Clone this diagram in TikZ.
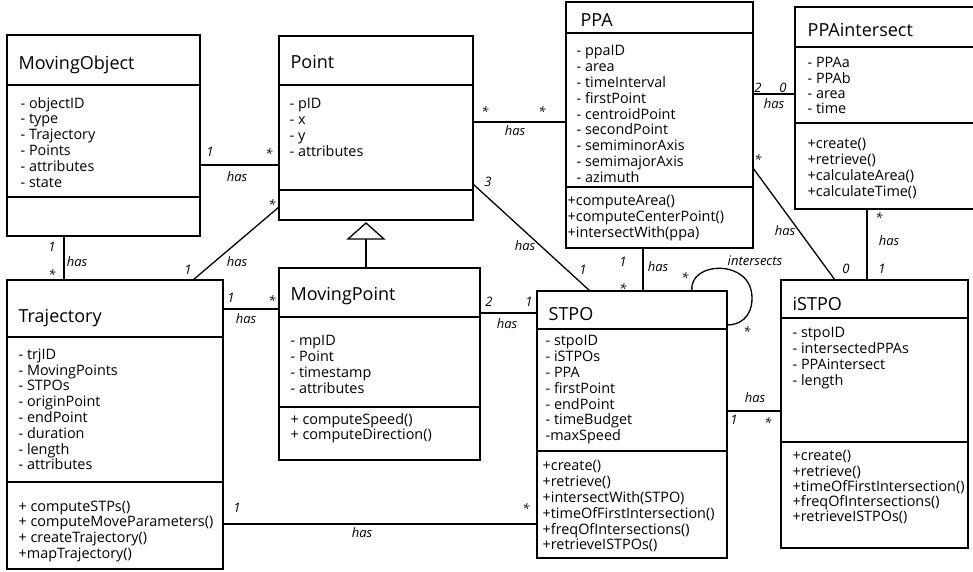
\documentclass[tikz,border=0pt]{standalone}
\usepackage{fontspec}
\setmainfont{Open Sans}
% class box: name, left, top, right, bottom, first divider, second divider
\newcommand\umlclass[7]{%
  \node[classframe, minimum width={(#4-#2)*1pt}, minimum height={(#5-#3)*1pt}] (#1) at (#2,#3) {};
  \draw (#1.north west) ++(0,{#6-#3}) -- ++({#4-#2},0);
  \draw (#1.north west) ++(0,{#7-#3}) -- ++({#4-#2},0);
}
\begin{document}
\begin{tikzpicture}[x=1pt,y=-1pt,line width=1.3pt,
  classframe/.style={draw, anchor=north west, inner sep=0, outer sep=0},
  ctitle/.style={anchor=base west, inner sep=0, font=\fontsize{18}{22}\selectfont},
  members/.style={anchor=north west, yshift=10pt, align=left, inner sep=0,
    execute at begin node={\rule{0pt}{10pt}}, font=\fontsize{14.4}{15.8}\selectfont},
  tight/.style={font=\fontsize{14.4}{15.2}\selectfont},
  lbl/.style={inner sep=0, font=\fontsize{13}{14}\selectfont\itshape},
  mult/.style={lbl, yshift=-2.6pt}]
\useasboundingbox (0,0) rectangle (973,572);

% ---- classes ----
\umlclass{mo}{7}{35}{200}{236}{85}{197}
\umlclass{pt}{279}{36}{473}{220}{85}{190}
\umlclass{ppa}{566}{2}{753}{248}{33}{187}
\umlclass{ppai}{795}{7}{990}{209}{47}{123}
\umlclass{tr}{7}{280}{223}{569}{337}{482}
\umlclass{mp}{279}{268}{480}{460}{317}{407}
\umlclass{stpo}{537}{291}{727}{558}{329}{451}
\umlclass{istpo}{781}{280}{968}{548}{318}{442}

% ---- titles ----
\node[ctitle] (mo-t) at (18,70) {MovingObject};
\node[ctitle] (pt-t) at (290,69) {Point};
\node[ctitle] (ppa-t) at (580,27) {PPA};
\node[ctitle] (ppai-t) at (807,37) {PPAintersect};
\node[ctitle] (tr-t) at (18,322) {Trajectory};
\node[ctitle] (mp-t) at (290,300) {MovingPoint};
\node[ctitle] (stpo-t) at (548,320) {STPO};
\node[ctitle] (istpo-t) at (792,310) {iSTPO};

% ---- attributes and operations ----
\node[members] (mo-a) at (20,106.5) {- objectID\\- type\\- Trajectory\\- Points\\- attributes\\- state};
\node[members] (pt-a) at (289,108) {- pID\\- x\\- y\\- attributes};
\node[members] (ppa-a) at (576,55) {- ppaID\\- area\\- timeInterval\\- firstPoint\\- centroidPoint\\- secondPoint\\- semiminorAxis\\- semimajorAxis\\- azimuth};
\node[members] (ppa-m) at (567,205) {+computeArea()\\+computeCenterPoint()\\+intersectWith(ppa)};
\node[members,tight] (ppai-a) at (807,67) {- PPAa\\- PPAb\\- area\\- time};
\node[members] (ppai-m) at (807,148) {+create()\\+retrieve()\\+calculateArea()\\+calculateTime()};
\node[members] (tr-a) at (18,358) {- trjID\\- MovingPoints\\- STPOs\\- originPoint\\- endPoint\\- duration\\- length\\- attributes};
\node[members] (tr-m) at (18,510) {+ computeSTPs()\\+ computeMoveParameters()\\+ createTrajectory()\\+mapTrajectory()};
\node[members] (mp-a) at (290,345) {- mpID\\- Point\\- timestamp\\- attributes};
\node[members,tight] (mp-m) at (290,423) {+ computeSpeed()\\+ computeDirection()};
\node[members] (stpo-a) at (545,345) {- stpoID\\- iSTPOs\\- PPA\\- firstPoint\\- endPoint\\- timeBudget\\-maxSpeed};
\node[members] (stpo-m) at (542,470) {+create()\\+retrieve()\\+intersectWith(STPO)\\+timeOfFirstIntersection()\\+freqOfIntersections()\\+retrieveISTPOs()};
\node[members] (istpo-a) at (792,337) {- stpoID\\- intersectedPPAs\\- PPAintersect\\- length};
\node[members,tight] (istpo-m) at (792,460) {+create()\\+retrieve()\\+timeOfFirstIntersection()\\+freqOfIntersections()\\+retrieveISTPOs()};

% ---- generalisation MovingPoint -> Point ----
\coordinate (gen-base) at ([xshift=87pt]mp.north west |- 0,239);
\draw ([xshift=87pt]mp.north west) -- (gen-base);
\draw (gen-base) -- ++(-18,0) -- ([xshift=87pt,yshift=-3pt]pt.south west) -- ([xshift=18pt]gen-base) -- cycle;

% ---- associations ----
\draw ([yshift=-130pt]mo.north east) -- ([yshift=-129pt]pt.north west);
\draw ([yshift=-171pt]pt.north west) -- ([xshift=186pt]tr.north west);
\draw ([xshift=57pt]mo.south west) -- ([xshift=57pt]tr.north west);
\draw ([yshift=-29pt]tr.north east) -- ([yshift=-41pt]mp.north west);
\draw ([yshift=-45pt]mp.north east) -- ([yshift=-22pt]stpo.north west);
\draw ([yshift=-86pt]pt.north east) -- ([yshift=-120pt]ppa.north west);
\draw ([yshift=-148pt]pt.north east) -- ([xshift=53pt]stpo.north west);
\draw ([xshift=77pt]ppa.south west) -- ([xshift=106pt]stpo.north west);
\draw ([xshift=155pt]stpo.north west) .. controls +(-4,-30) and +(0,-40) .. ([yshift=-7pt,xshift=25pt]stpo.north east)
      .. controls +(0,20) and +(12,0) .. ([yshift=-34pt]stpo.north east);
\draw ([yshift=-92pt]ppa.north east) -- ([yshift=-87pt]ppai.north west);
\draw ([yshift=-166pt]ppa.north east) -- ([xshift=54pt]istpo.north west);
\draw ([xshift=72pt]ppai.south west) -- ([xshift=86pt]istpo.north west);
\draw ([yshift=-120pt]stpo.north east) -- ([yshift=-131pt]istpo.north west);
\draw ([yshift=-244pt]tr.north east) -- ([yshift=-233pt]stpo.north west);

% ---- multiplicities and role names ----
\node[lbl] (l1a) at (210,152) {1};
\node[mult] (l1b) at (269,151) {*};
\node[lbl] (l1c) at (237,177) {has};
\node[mult] (l2a) at (272,202) {*};
\node[lbl] (l2b) at (188,270) {1};
\node[lbl] (l2c) at (237,262) {has};
\node[lbl] (l3a) at (52,247) {1};
\node[mult] (l3b) at (52,272) {*};
\node[lbl] (l3c) at (77,262) {has};
\node[lbl] (l4a) at (231,298) {1};
\node[mult] (l4b) at (272,298) {*};
\node[lbl] (l4c) at (246,319) {has};
\node[lbl] (l5a) at (489,302) {2};
\node[lbl] (l5b) at (529,302) {1};
\node[lbl] (l5c) at (507,324) {has};
\node[mult] (l6a) at (485,109) {*};
\node[mult] (l6b) at (542,109) {*};
\node[lbl] (l6c) at (515,131) {has};
\node[lbl] (l7a) at (488,182) {3};
\node[lbl] (l7b) at (583,270) {1};
\node[lbl] (l7c) at (525,246) {has};
\node[lbl] (l8a) at (623,262) {1};
\node[mult] (l8b) at (623,286) {*};
\node[lbl] (l8c) at (658,267) {has};
\node[mult] (l9a) at (685,275) {*};
\node[mult] (l9b) at (747,329) {*};
\node[lbl] (l9c) at (755,261) {intersects};
\node[lbl] (l10a) at (758,88) {2};
\node[lbl] (l10b) at (783,88) {0};
\node[lbl] (l10c) at (774,104) {has};
\node[mult] (l11a) at (758,157) {*};
\node[lbl] (l11b) at (785,231) {has};
\node[lbl] (l11c) at (846,269) {0};
\node[mult] (l12a) at (879,215) {*};
\node[lbl] (l12b) at (889,241) {has};
\node[lbl] (l12c) at (882,269) {1};
\node[lbl] (l13a) at (755,398) {has};
\node[lbl] (l13b) at (734,420) {1};
\node[mult] (l13c) at (768,420) {*};
\node[lbl] (l14a) at (237,508) {1};
\node[mult] (l14b) at (526,506) {*};
\node[lbl] (l14c) at (362,533) {has};
\end{tikzpicture}
\end{document}
